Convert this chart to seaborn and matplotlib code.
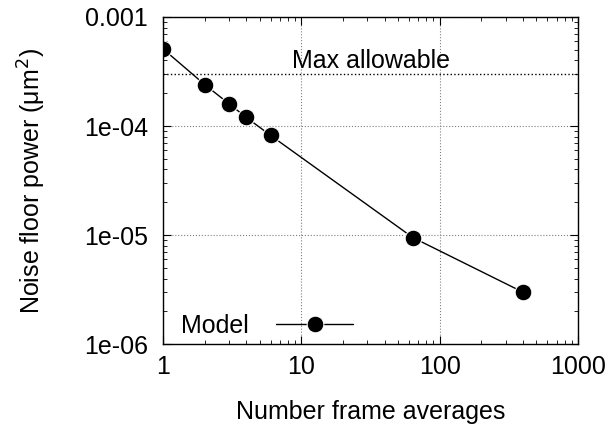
import numpy as np
import pandas as pd
import seaborn as sns
import matplotlib.pyplot as plt

# Data
frame_averages = [1, 2, 3, 4, 6, 64, 400]
noise_power = [5.1e-4, 2.4e-4, 1.6e-4, 1.2e-4, 8.2e-5, 9.5e-6, 3.0e-6]
max_allowable = 3e-4

df = pd.DataFrame({"averages": frame_averages, "power": noise_power})

sns.set_style("ticks")
plt.rcParams['font.family'] = ['Liberation Sans', 'DejaVu Sans']
plt.rcParams['text.color'] = 'black'
plt.rcParams['axes.labelcolor'] = 'black'
plt.rcParams['xtick.color'] = 'black'
plt.rcParams['ytick.color'] = 'black'

fs = 18

fig = plt.figure(figsize=(6.13, 4.25), dpi=100)
ax = fig.add_axes([0.266, 0.19, 0.677, 0.77])

sns.lineplot(x="averages", y="power", data=df, ax=ax, color="black",
             marker="o", markersize=12, linewidth=1, label="Model")

ax.axhline(max_allowable, color="black", linestyle=":", linewidth=1)
ax.text(31.6, max_allowable * 1.03, "Max allowable", ha="center", va="bottom",
        fontsize=fs)

ax.set_xscale("log")
ax.set_yscale("log")
ax.set_xlim(1, 1000)
ax.set_ylim(1e-6, 1e-3)

ax.set_xticks([1, 10, 100, 1000])
ax.set_xticklabels(["1", "10", "100", "1000"])
ax.set_yticks([1e-6, 1e-5, 1e-4, 1e-3])
ax.set_yticklabels(["1e-06", "1e-05", "1e-04", "0.001"])

ax.grid(True, which="major", color="gray", linestyle=":", linewidth=0.8)
ax.tick_params(which="both", direction="in", top=True, right=True,
               labelsize=fs)
ax.tick_params(which="major", length=6)
ax.tick_params(which="minor", length=3)
ax.tick_params(axis="x", which="major", pad=8)
ax.tick_params(axis="y", which="major", pad=11)
for s in ax.spines.values():
    s.set_color("black")
    s.set_linewidth(1)

ax.set_xlabel("Number frame averages", fontsize=fs, labelpad=15)
ax.set_ylabel("Noise floor power (\u03bcm$^2$)", fontsize=fs, labelpad=26)

ax.legend(loc="lower left", bbox_to_anchor=(0.0, -0.035), frameon=False,
          markerfirst=False, fontsize=fs, handlelength=3.1,
          handletextpad=1.1, borderaxespad=0.3)

plt.savefig("out.png", dpi=100)
